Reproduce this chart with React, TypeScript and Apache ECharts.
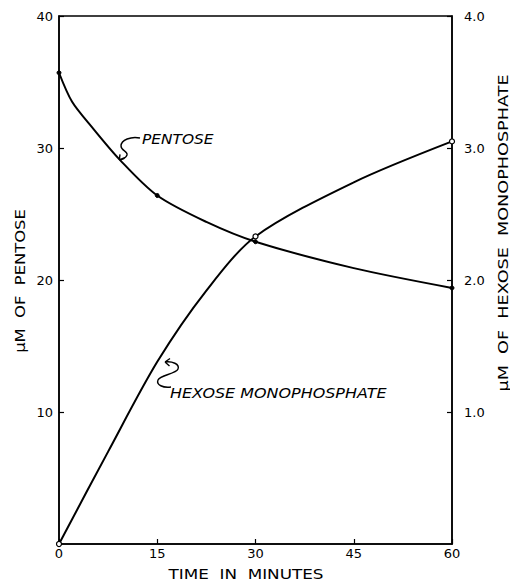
import React, { useEffect, useRef } from "react";
import * as echarts from "echarts";

// Time (minutes)
const timeTicks = [0, 15, 30, 45, 60];
// Pentose (µM) — measured points and curve trace
const pentoseTimes = [0, 2, 5, 9.3, 15, 22.5, 30, 45, 60];
const pentoseValues = [35.7, 33.5, 31.6, 29.1, 26.4, 24.4, 22.9, 20.9, 19.4];
const pentoseMarked = [true, false, false, false, true, false, true, false, true];
// Hexose monophosphate (µM) — measured points and curve trace
const hexoseTimes = [0, 7.5, 15, 22.5, 30, 45, 60];
const hexoseValues = [0, 0.7, 1.38, 1.92, 2.33, 2.74, 3.05];
const hexoseMarked = [true, false, false, false, true, false, true];

const FONT = "DejaVu Sans";

const pentosePath =
  "M140,138 C131,136 121,140 121,146 C121,151 128,151 127,155 C126,158 122,160 119.3,160 M119.3,160 L120,154.3 M119.3,160 L125.3,157.3";
const hexosePath =
  "M171,387 C163,388 156,385 158,380 C160,375 176,374 178,369 C180,364 172,361 165,362 M165,362 L170,358.5 M165,362 L169.5,366";

let registered = false;
function registerShapes() {
  if (registered) return;
  echarts.graphic.registerShape("arrowPentose", echarts.graphic.extendPath(pentosePath, {}));
  echarts.graphic.registerShape("arrowHexose", echarts.graphic.extendPath(hexosePath, {}));
  registered = true;
}

function label(text: string, x: number, y: number, size: number, scaleX: number, rotation = 0, italic = false, align = "center") {
  return {
    type: "text",
    x,
    y,
    rotation,
    scaleX,
    style: {
      text,
      fontFamily: FONT,
      fontSize: size,
      fontStyle: italic ? "italic" : "normal",
      fill: "#000",
      align,
      verticalAlign: "middle",
    },
  };
}

export default function App() {
  const ref = useRef<HTMLDivElement>(null);
  useEffect(() => {
    if (!ref.current) return;
    registerShapes();
    const chart = echarts.init(ref.current, null, { renderer: "svg" });
    const pentoseData = pentoseTimes.map((t, i) => ({
      value: [t, pentoseValues[i]],
      symbol: pentoseMarked[i] ? "circle" : "none",
    }));
    const hexoseData = hexoseTimes.map((t, i) => ({
      value: [t, hexoseValues[i]],
      symbol: hexoseMarked[i] ? "circle" : "none",
    }));
    const axisLine = { show: true, lineStyle: { color: "#000", width: 1.5 } };
    const axisTick = { show: true, inside: true, length: 5, lineStyle: { color: "#000", width: 1.2 } };
    chart.setOption({
      animation: false,
      backgroundColor: "#fff",
      grid: {
        left: 59,
        right: 58,
        top: 16,
        bottom: 38,
        show: true,
        borderColor: "#000",
        borderWidth: 1.5,
      },
      xAxis: {
        type: "value",
        min: 0,
        max: 60,
        interval: 15,
        axisLine,
        axisTick,
        splitLine: { show: false },
        axisLabel: {
          color: "#000",
          fontFamily: FONT,
          fontSize: 13,
          margin: 3,
          customValues: timeTicks,
        },
      },
      yAxis: [
        {
          type: "value",
          min: 0,
          max: 40,
          interval: 10,
          position: "left",
          axisLine,
          axisTick,
          splitLine: { show: false },
          axisLabel: {
            color: "#000",
            fontFamily: FONT,
            fontSize: 13,
            margin: 6,
            showMinLabel: false,
          },
        },
        {
          type: "value",
          min: 0,
          max: 4,
          interval: 1,
          position: "right",
          axisLine,
          axisTick,
          splitLine: { show: false },
          axisLabel: {
            color: "#000",
            fontFamily: FONT,
            fontSize: 13,
            margin: 12,
            showMinLabel: false,
            formatter: (v: number) => v.toFixed(1),
          },
        },
      ],
      series: [
        {
          name: "Pentose",
          type: "line",
          yAxisIndex: 0,
          smooth: 0.3,
          data: pentoseData,
          symbolSize: 4,
          lineStyle: { color: "#000", width: 2 },
          itemStyle: { color: "#000", borderColor: "#000", borderWidth: 1 },
        },
        {
          name: "Hexose monophosphate",
          type: "line",
          yAxisIndex: 1,
          smooth: 0.3,
          data: hexoseData,
          symbolSize: 5,
          lineStyle: { color: "#000", width: 2 },
          itemStyle: { color: "#fff", borderColor: "#000", borderWidth: 1.2 },
          z: 3,
        },
      ],
      graphic: [
        label("PENTOSE", 142, 139, 14, 1.1, 0, true, "left"),
        label("HEXOSE MONOPHOSPHATE", 170, 393, 14, 1.14, 0, true, "left"),
        label("TIME  IN  MINUTES", 246, 574, 14, 1.2),
        label("μM  OF  PENTOSE", 20, 281, 14, 1.17, Math.PI / 2),
        label("μM  OF  HEXOSE  MONOPHOSPHATE", 503, 233, 14, 1.26, Math.PI / 2),
        {
          type: "arrowPentose",
          x: 0,
          y: 0,
          style: { stroke: "#000", fill: "none", lineWidth: 1.4 },
        },
        {
          type: "arrowHexose",
          x: 0,
          y: 0,
          style: { stroke: "#000", fill: "none", lineWidth: 1.4 },
        },
      ],
    });
    return () => chart.dispose();
  }, []);
  return (
    <div
      ref={ref}
      style={{ position: "absolute", left: 0, top: 0, width: 510, height: 582, background: "#fff" }}
    />
  );
}
